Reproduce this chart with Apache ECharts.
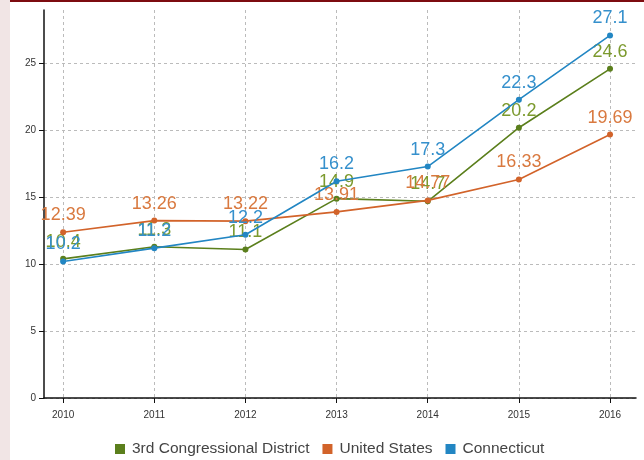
<!DOCTYPE html>
<html><head><meta charset="utf-8">
<script src="https://cdn.jsdelivr.net/npm/echarts@6/dist/echarts.min.js"></script>
<style>html,body{margin:0;padding:0;background:#fff}#c{width:644px;height:460px}</style>
</head><body><div id="c"></div>
<script>
var years = [2010, 2011, 2012, 2013, 2014, 2015, 2016];
var district = [10.4, 11.3, 11.1, 14.9, 14.7, 20.2, 24.6];
var unitedStates = [12.39, 13.26, 13.22, 13.91, 14.77, 16.33, 19.69];
var connecticut = [10.2, 11.2, 12.2, 16.2, 17.3, 22.3, 27.1];
var yTicks = [0, 5, 10, 15, 20, 25];
var seriesNames = ['3rd Congressional District', 'United States', 'Connecticut'];

var lineColors = ['#5b7f1c', '#d2632a', '#2286c3'];
var labelColors = ['#7c9a2e', '#d9793f', '#3590cc'];
var dataSets = [district, unitedStates, connecticut];

function pairs(arr){ return arr.map(function(v,i){ return [years[i], v]; }); }

var chart = echarts.init(document.getElementById('c'), null, {renderer:'canvas'});
chart.setOption({
  backgroundColor: '#fff',
  animation: false,
  textStyle: {fontFamily: 'Liberation Sans, Arial, sans-serif'},
  graphic: [
    {type:'rect', shape:{x:0,y:0,width:10,height:460}, style:{fill:'#f1e5e5'}, z:-1},
    {type:'rect', shape:{x:10,y:0,width:634,height:2}, style:{fill:'#7d0c10'}, z:-1}
  ],
  grid: {left: 44, right: 8, top: 10, bottom: 62},
  legend: {
    bottom: -2, left: 110,
    itemWidth: 10, itemHeight: 10, itemGap: 13,
    icon: 'rect',
    textStyle: {fontSize: 15.5, color: '#444', padding: [0, 0, 0, 2], fontFamily: 'Liberation Sans, Arial, sans-serif'},
    data: seriesNames
  },
  xAxis: {
    type: 'value',
    min: 2009.79, max: 2016.285,
    axisLine: {show: true, lineStyle: {color: '#111', width: 1.5}},
    axisTick: {show: true, length: 5, customValues: years, lineStyle: {color: '#111'}},
    axisLabel: {customValues: years, fontSize: 10, color: '#333', margin: 12, formatter: function(v){return String(v);}},
    splitLine: {show: true, lineStyle: {color: '#bbb', type: [3, 3], width: 1}}
  },
  yAxis: {
    type: 'value',
    min: 0, max: 29,
    axisLine: {show: true, lineStyle: {color: '#111', width: 1.5}},
    axisTick: {show: true, length: 5, customValues: yTicks, lineStyle: {color: '#111'}},
    axisLabel: {customValues: yTicks, fontSize: 10, color: '#333', margin: 8},
    splitLine: {show: true, lineStyle: {color: '#bbb', type: [3, 3], width: 1}}
  },
  series: seriesNames.map(function(name, k){
    return {
      name: name, type: 'line',
      data: pairs(dataSets[k]),
      symbol: 'circle', symbolSize: 6,
      itemStyle: {color: lineColors[k]},
      lineStyle: {color: lineColors[k], width: 1.6},
      label: {show: true, position: 'top', fontSize: 18, color: labelColors[k],
        formatter: function(p){ return String(p.value[1]); }},
      z: 2 + k
    };
  })
});
</script></body></html>
